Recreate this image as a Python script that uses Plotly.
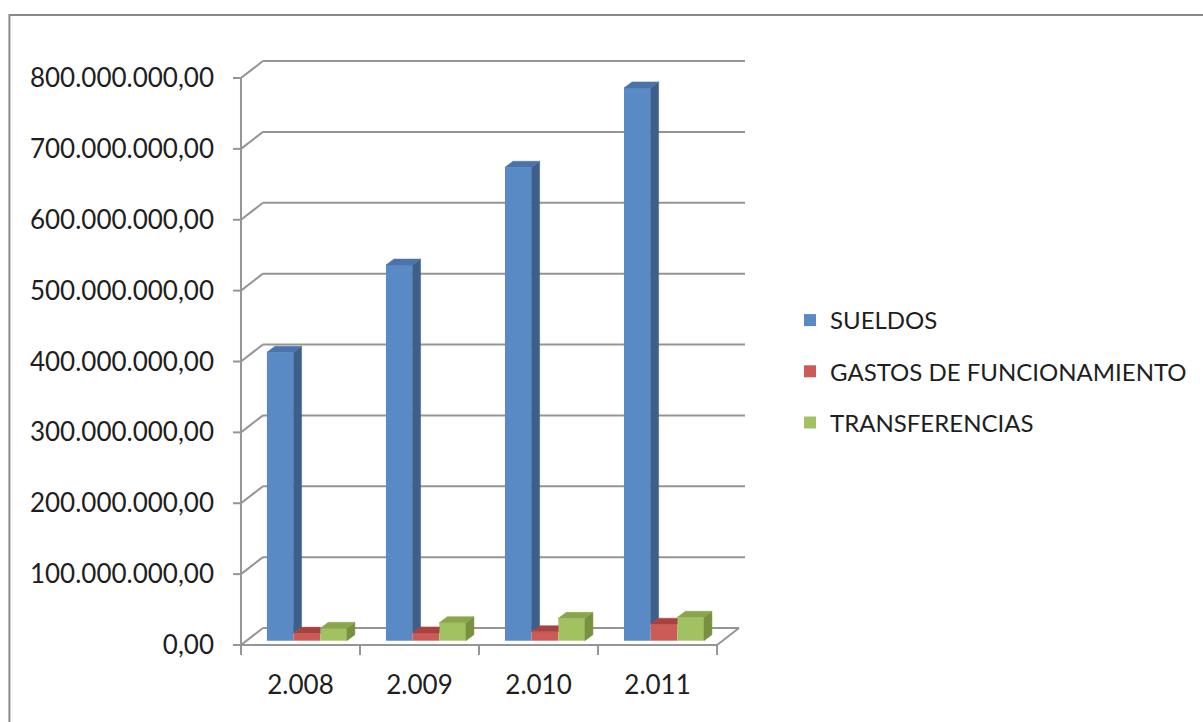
import plotly.graph_objects as go

# ---------------- data ----------------
years = ["2.008", "2.009", "2.010", "2.011"]
series_names = ["SUELDOS", "GASTOS DE FUNCIONAMIENTO", "TRANSFERENCIAS"]
sueldos = [407e6, 530e6, 668e6, 780e6]
gastos_funcionamiento = [10.5e6, 11e6, 12.7e6, 23.3e6]
transferencias = [17.5e6, 25.5e6, 31.5e6, 33e6]
y_tick_values = [0, 100e6, 200e6, 300e6, 400e6, 500e6, 600e6, 700e6, 800e6]

series_values = [sueldos, gastos_funcionamiento, transferencias]

# ---------------- styles / geometry ----------------
front_colors = ["#5A8AC5", "#CC5B57", "#A2C262"]
side_colors = ["#3D5F89", "#973E3B", "#77913F"]
top_colors = ["#4A74A9", "#A8423F", "#88A74C"]
grid_color = "#959595"
font_family = "Lato, 'Open Sans', sans-serif"
FS_AXIS = 26
FS_LEG = 24

W, H = 1203, 722
PX_L, PX_R, PX_T, PX_B = 228, 748, 50, 662
FRONT_LEFT_PX = 241.0
CAT_PX = 119.25          # pixels per category on the front plane
Y0_PX = 645.0            # pixel row of value 0 on the front plane
PX_PER_UNIT_Y = 0.70875 / 1e6

x_range = [-0.5 - (FRONT_LEFT_PX - PX_L) / CAT_PX, -0.5 + (PX_R - FRONT_LEFT_PX) / CAT_PX]
y_range = [-(PX_B - Y0_PX) / PX_PER_UNIT_Y, 800e6 + (78 - PX_T) / PX_PER_UNIT_Y]

DX = 22 / CAT_PX                 # wall depth (x)
DY = 17 / PX_PER_UNIT_Y          # wall depth (y)
BW = 0.224                       # bar width
CL = 0.218                       # cluster left offset inside category (incl. depth shift)
FY = 4.3 / PX_PER_UNIT_Y         # bar front plane base
BDX = 8 / CAT_PX                 # bar depth (x)
BDY = 6 / PX_PER_UNIT_Y          # bar depth (y)
TICK_DX = 8 / CAT_PX
TICK_DY = 10 / PX_PER_UNIT_Y
X_END = -0.5 + (746 - FRONT_LEFT_PX) / CAT_PX

fig = go.Figure()

# front faces as bar traces
for s, (name, vals) in enumerate(zip(series_names, series_values)):
    xs = [i - 0.5 + CL + s * BW + BW / 2 for i in range(len(years))]
    fig.add_trace(go.Bar(
        x=xs, y=vals, base=FY, width=BW, name=name, legendgroup=name,
        marker=dict(color=front_colors[s], line=dict(width=0)),
        hoverinfo="skip",
    ))

# side and top faces (3D effect), painter's order
def poly(pts, color):
    xs = [p[0] for p in pts] + [pts[0][0]]
    ys = [p[1] for p in pts] + [pts[0][1]]
    fig.add_trace(go.Scatter(
        x=xs, y=ys, mode="lines", fill="toself", fillcolor=color,
        line=dict(width=0.5, color=color), showlegend=False, hoverinfo="skip",
    ))

for i in range(len(years)):
    for s, vals in enumerate(series_values):
        v = vals[i]
        xl = i - 0.5 + CL + s * BW
        xr = xl + BW
        top = FY + v
        vn = series_values[s + 1][i] if s + 1 < len(series_values) else None
        if vn is None or vn < v:
            ylo = FY if vn is None else FY + vn
            poly([(xr, ylo), (xr + BDX, ylo + BDY), (xr + BDX, top + BDY), (xr, top)], side_colors[s])
        if vn is not None and vn >= v:
            poly([(xl, top), (xl + BDX, top + BDY), (xr, top + BDY), (xr, top)], top_colors[s])
        else:
            poly([(xl, top), (xl + BDX, top + BDY), (xr + BDX, top + BDY), (xr, top)], top_colors[s])

# walls, gridlines, floor, axis lines
shapes = []
def line(x0, y0, x1, y1, width=2, color=grid_color, layer="below"):
    shapes.append(dict(type="line", xref="x", yref="y", x0=x0, y0=y0, x1=x1, y1=y1,
                       line=dict(color=color, width=width), layer=layer))

for v in y_tick_values:
    line(-0.5, v, -0.5 + DX, v + DY)               # side wall diagonal
    if v > 0:
        line(-0.5 + DX, v + DY, X_END, v + DY)      # back wall gridline
    line(-0.5 - TICK_DX, v, -0.5, v)                # y tick mark
line(-0.5 + DX, DY, len(years) - 0.5 + DX, DY)      # floor back
line(-0.5, 0, len(years) - 0.5, 0)                  # floor front
line(len(years) - 0.5, 0, len(years) - 0.5 + DX, DY)
line(-0.5, 800e6, -0.5, -TICK_DY)                   # y axis line
for k in range(len(years) + 1):
    line(k - 0.5, 0, k - 0.5, -TICK_DY)             # category tick marks

# outer chart border
pw = PX_R - PX_L
ph = PX_B - PX_T
shapes.append(dict(type="rect", xref="paper", yref="paper",
                   x0=(9 - PX_L) / pw, x1=(1215 - PX_L) / pw,
                   y0=(PX_B - 735) / ph, y1=(PX_B - 15) / ph,
                   line=dict(color="#8A8A8A", width=2), fillcolor="rgba(0,0,0,0)", layer="above"))

fig.update_layout(
    width=W, height=H,
    margin=dict(l=PX_L, r=W - PX_R, t=PX_T, b=H - PX_B, pad=0),
    paper_bgcolor="white", plot_bgcolor="white",
    barmode="overlay",
    separators=",.",
    font=dict(family=font_family, size=FS_AXIS, color="#1E1E1E"),
    shapes=shapes,
    showlegend=True,
    legend=dict(
        x=(790 - PX_L) / pw, xanchor="left",
        y=(PX_B - 371.5) / ph, yanchor="middle",
        font=dict(size=FS_LEG, family=font_family, color="#1E1E1E"),
        tracegroupgap=17, bgcolor="rgba(0,0,0,0)",
    ),
    xaxis=dict(
        range=x_range, tickvals=list(range(len(years))), ticktext=years,
        showgrid=False, zeroline=False, showline=False, ticks="",
        tickfont=dict(size=FS_AXIS), ticklabelstandoff=5, fixedrange=True,
    ),
    yaxis=dict(
        range=y_range, tickvals=y_tick_values, tickformat=",.2f",
        showgrid=False, zeroline=False, showline=False, ticks="",
        tickfont=dict(size=FS_AXIS), ticklabelstandoff=13, fixedrange=True,
    ),
)

fig.write_html(
    "out.html",
    config={"displayModeBar": False},
    post_script="document.body.style.margin='0px';document.body.style.overflow='hidden';",
)
